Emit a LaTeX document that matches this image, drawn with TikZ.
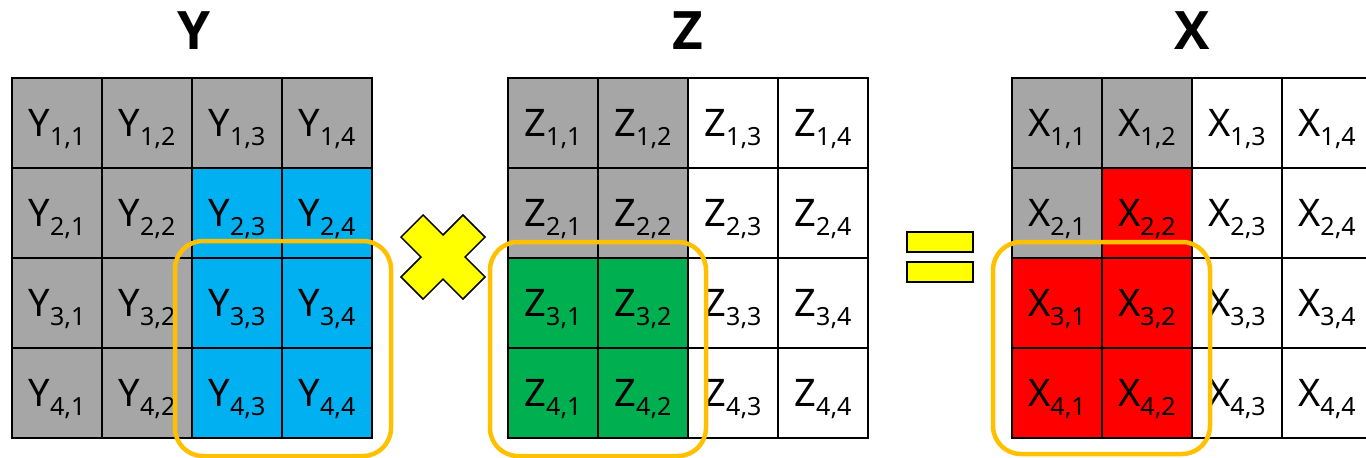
\documentclass[tikz,border=0pt]{standalone}
\usepackage{fontspec}
\setmainfont{Noto Sans}
\newfontfamily\headfont{Open Sans}
\definecolor{gr}{HTML}{A6A6A6}
\definecolor{bl}{HTML}{00B0F0}
\definecolor{gn}{HTML}{00B050}
\definecolor{rd}{HTML}{FF0000}
\definecolor{wh}{HTML}{FFFFFF}
\definecolor{symyellow}{HTML}{FFFF00}
\definecolor{blockorange}{HTML}{FFC000}
\newcommand{\entry}[3]{#1\raisebox{-9pt}{\fontsize{25}{25}\selectfont #2,#3}}
\tikzset{
  cell/.style={draw=black, line width=2pt, minimum width=90pt, minimum height=90pt,
    inner sep=0pt, text depth=0pt, font=\fontsize{38}{40}\selectfont},
  title/.style={font=\fontsize{53}{56}\selectfont\headfont\bfseries, inner sep=0pt},
  block/.style={draw=blockorange, line width=4.5pt, rounded corners=28pt},
  sym/.style={draw=black, line width=1.5pt, fill=symyellow}
}
\begin{document}
\begin{tikzpicture}[x=1pt,y=-1pt]
      \useasboundingbox (0,0) rectangle (1366,458);

      \node[title] (ytitle) at (194,31) {Y};
      \node[title] (ztitle) at (688,31) {Z};
      \node[title] (xtitle) at (1192,31) {X};

      % Y
      \foreach \r/\cols in {1/{gr,gr,gr,gr},2/{gr,gr,bl,bl},3/{gr,gr,bl,bl},4/{gr,gr,bl,bl}}
        \foreach \col [count=\c] in \cols
          \node[cell, fill=\col] (y\r\c) at ({12+90*\c-45},{78+90*\r-45}) {\entry{Y}{\r}{\c}};

      % Z
      \foreach \r/\cols in {1/{gr,gr,wh,wh},2/{gr,gr,wh,wh},3/{gn,gn,wh,wh},4/{gn,gn,wh,wh}}
        \foreach \col [count=\c] in \cols
          \node[cell, fill=\col] (z\r\c) at ({508+90*\c-45},{78+90*\r-45}) {\entry{Z}{\r}{\c}};

      % X
      \foreach \r/\cols in {1/{gr,gr,wh,wh},2/{gr,rd,wh,wh},3/{rd,rd,wh,wh},4/{rd,rd,wh,wh}}
        \foreach \col [count=\c] in \cols
          \node[cell, fill=\col] (x\r\c) at ({1012+90*\c-45},{78+90*\r-45}) {\entry{X}{\r}{\c}};

      \draw[block] ([shift={(-16,-16)}]y33.north west) rectangle ([shift={(18,17)}]y44.south east);
      \draw[block] ([shift={(-17,-15)}]z31.north west) rectangle ([shift={(17,17)}]z42.south east);
      \draw[block] ([shift={(-18,-15)}]x31.north west) rectangle ([shift={(17,15)}]x42.south east);

      % times
      \draw[sym, shift={(443,257)}, rotate=45]
        (15.6,15.6) -- (43.8,15.6) -- (43.8,-15.6) -- (15.6,-15.6) -- (15.6,-43.8) -- (-15.6,-43.8)
        -- (-15.6,-15.6) -- (-43.8,-15.6) -- (-43.8,15.6) -- (-15.6,15.6) -- (-15.6,43.8) -- (15.6,43.8) -- cycle;

      % equals
      \draw[sym] (907,232) rectangle (973,252);
      \draw[sym] (907,262) rectangle (973,282);

    \end{tikzpicture}
\end{document}
